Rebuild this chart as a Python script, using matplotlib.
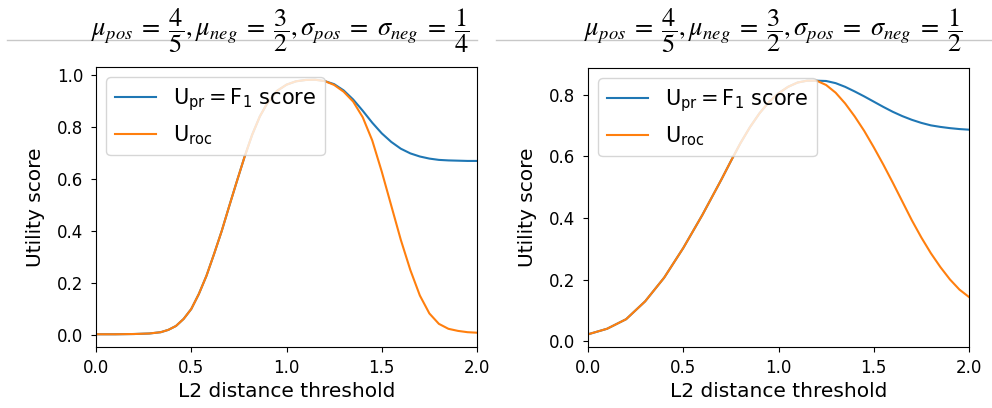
import matplotlib
matplotlib.use("Agg")
import matplotlib.pyplot as plt
from matplotlib.lines import Line2D

# ========================= values =========================
# left panel: sigma = 1/4 ; both curves share the rising part
x_rise_l = [0.0, 0.1, 0.2, 0.28, 0.34, 0.38, 0.42, 0.46, 0.50, 0.54, 0.58, 0.62,
            0.66, 0.70, 0.74, 0.78, 0.82, 0.86, 0.90, 0.95, 1.00, 1.05, 1.10, 1.15, 1.20]
y_rise_l = [0.003, 0.003, 0.004, 0.006, 0.011, 0.020, 0.035, 0.062, 0.100, 0.158, 0.228, 0.312,
            0.400, 0.497, 0.592, 0.685, 0.770, 0.840, 0.892, 0.938, 0.962, 0.975, 0.980, 0.981, 0.976]
x_fall_l = [1.25, 1.30, 1.35, 1.40, 1.45, 1.50, 1.55, 1.60, 1.65, 1.70, 1.75, 1.80,
            1.85, 1.90, 1.95, 2.0]
roc_fall_l = [0.961, 0.935, 0.897, 0.837, 0.748, 0.628, 0.497, 0.366, 0.250, 0.152, 0.083, 0.043,
              0.024, 0.016, 0.011, 0.009]
pr_fall_l = [0.964, 0.940, 0.905, 0.862, 0.816, 0.775, 0.742, 0.716, 0.698, 0.686, 0.678, 0.673,
             0.671, 0.670, 0.669, 0.669]

# right panel: sigma = 1/2
x_rise_r = [0.0, 0.1, 0.2, 0.3, 0.4, 0.5, 0.6, 0.7, 0.75, 0.8, 0.85, 0.9, 0.95, 1.0,
            1.05, 1.10, 1.15, 1.20]
y_rise_r = [0.023, 0.041, 0.072, 0.130, 0.207, 0.303, 0.410, 0.525, 0.585, 0.643, 0.695, 0.740,
            0.777, 0.805, 0.826, 0.840, 0.846, 0.846]
x_fall_r = [1.25, 1.30, 1.35, 1.40, 1.45, 1.50, 1.55, 1.60, 1.65, 1.70, 1.75, 1.80,
            1.85, 1.90, 1.95, 2.0]
roc_fall_r = [0.832, 0.807, 0.772, 0.730, 0.683, 0.630, 0.574, 0.515, 0.454, 0.393, 0.337, 0.286,
              0.241, 0.201, 0.168, 0.144]
pr_fall_r = [0.845, 0.838, 0.826, 0.811, 0.795, 0.778, 0.761, 0.745, 0.731, 0.719, 0.709, 0.701,
             0.696, 0.692, 0.689, 0.687]

titles = [r"$\mu_{pos}\;=\;\dfrac{4}{5},\mu_{neg}\;=\;\dfrac{3}{2},\sigma_{pos}\;=\;\sigma_{neg}\;=\;\dfrac{1}{4}$",
          r"$\mu_{pos}\;=\;\dfrac{4}{5},\mu_{neg}\;=\;\dfrac{3}{2},\sigma_{pos}\;=\;\sigma_{neg}\;=\;\dfrac{1}{2}$"]
label_pr = r"$\mathrm{U_{pr} = F_1}$ score"
label_roc = r"$\mathrm{U_{roc}}$"
x_ticks = [0.0, 0.5, 1.0, 1.5, 2.0]
y_ticks_l = [0.0, 0.2, 0.4, 0.6, 0.8, 1.0]
y_ticks_r = [0.0, 0.2, 0.4, 0.6, 0.8]

# ================================ figure =========================================
fig = plt.figure(figsize=(9.92, 4.08), dpi=100)
ax1 = fig.add_axes([96 / 992, 61 / 408, 381 / 992, 280 / 408])
ax2 = fig.add_axes([588 / 992, 61 / 408, 381 / 992, 279 / 408])

panels = [
    (ax1, x_rise_l, y_rise_l, x_fall_l, roc_fall_l, pr_fall_l, y_ticks_l),
    (ax2, x_rise_r, y_rise_r, x_fall_r, roc_fall_r, pr_fall_r, y_ticks_r),
]
for ax, xr, yr, xf, roc, pr, yt in panels:
    ax.plot(xr + xf, yr + pr, color="tab:blue", label=label_pr)
    ax.plot(xr + xf, yr + roc, color="tab:orange", label=label_roc)
    ax.set_xlim(0, 2)
    ax.set_xticks(x_ticks)
    ax.set_yticks(yt)
    ax.tick_params(labelsize=12)
    ax.tick_params(axis="x", pad=5)
    ax.tick_params(axis="y", pad=5.5)
    ax.set_xlabel("L2 distance threshold", fontsize=14.5)
    ax.set_ylabel("Utility score", fontsize=14.5, labelpad=9)
    ax.legend(loc="upper left", fontsize=15)

# title images with the grey rule running through them
fig.add_artist(Line2D([7 / 992, 477 / 992], [1 - 40 / 408] * 2, color="#c8c8c8", lw=1, zorder=0))
fig.add_artist(Line2D([496 / 992, 1.0], [1 - 40 / 408] * 2, color="#c8c8c8", lw=1, zorder=0))
fig.text(280 / 992, 1 - 31 / 408, titles[0], ha="center", va="center", fontsize=19,
         math_fontfamily="stix")
fig.text(773 / 992, 1 - 31 / 408, titles[1], ha="center", va="center", fontsize=19,
         math_fontfamily="stix")

fig.savefig("out.png", dpi=100)
